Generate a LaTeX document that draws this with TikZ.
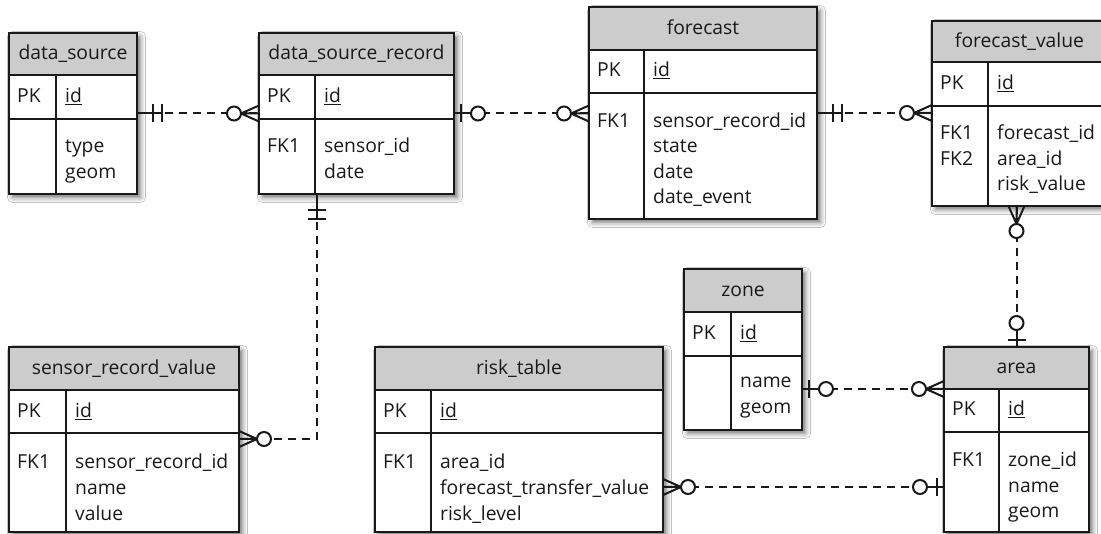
\documentclass[tikz,border=0pt]{standalone}
\usepackage{fontspec}
\setmainfont{Open Sans}
\usetikzlibrary{fit,calc,shadows.blur}
\definecolor{hdrgray}{RGB}{204,204,204}
\definecolor{ink}{RGB}{25,25,25}
\tikzset{
  tblbox/.style={draw=ink, line width=1.3pt, fill=white, inner sep=0pt, outer sep=0pt,
    blur shadow={shadow xshift=3.5pt, shadow yshift=-3.5pt, shadow blur radius=5pt, shadow opacity=55}},
  tblline/.style={draw=ink, line width=1.3pt},
  hdrfill/.style={fill=hdrgray},
  ttl/.style={anchor=base, inner sep=0pt, text=ink, font=\fontsize{19.3}{20}\selectfont},
  lbl/.style={anchor=base west, inner sep=0pt, text=ink, font=\fontsize{19.3}{20}\selectfont},
  conn/.style={draw=ink, line width=2pt, dash pattern=on 8pt off 6pt},
  mk/.style={draw=ink, line width=2pt},
  pics/onlyone/.style={code={
    \draw[mk] (0,0) -- (25,0);
    \draw[mk] (16,-9) -- (16,9) (25,-9) -- (25,9);}},
  pics/zeroone/.style={code={
    \draw[mk] (0,0) -- (17,0);
    \draw[mk] (7,-9) -- (7,9);
    \draw[mk, fill=white] (24,0) circle (7pt);}},
  pics/zeromany/.style={code={
    \draw[mk] (0,-8) -- (18,0) -- (0,8) (0,0) -- (18,0);
    \draw[mk, fill=white] (25,0) circle (7pt);}},
}
\newcommand\ertable[9]{%
  \node[tblbox, fit={(#2,#3) (#4,#7)}] (#1) {};
  \fill[hdrfill] (#2,#3) rectangle (#4,#5);
  \draw[tblline] (#2,#5) -- (#4,#5) (#2,#6) -- (#4,#6) (#8,#5) -- (#8,#7);
  \draw[tblline] (#1.north west) rectangle (#1.south east);
  \node[ttl] (#1-title) at ({(#2+#4)/2},{(#3+#5)/2+6}) {#9};
}
\begin{document}
\begin{tikzpicture}[x=1pt,y=-1pt]
\useasboundingbox (0,0) rectangle (1101,534);
\fill[white] (0,0) rectangle (1101,534);

% ---------- tables ----------
\ertable{ds}{9}{33}{137}{75}{119}{194}{56}{data\_source}
\node[lbl] (ds-pk) at (17,102.5) {PK};
\node[lbl] (ds-id) at (65,102.5) {\underline{id}};
\node[lbl] (ds-a1) at (65,153) {type};
\node[lbl] (ds-a2) at (65,178.5) {geom};

\ertable{dsr}{259}{33}{454}{75}{119}{194}{315}{data\_source\_record}
\node[lbl] (dsr-pk) at (267,102.5) {PK};
\node[lbl] (dsr-id) at (324,102.5) {\underline{id}};
\node[lbl] (dsr-fk) at (267,153) {FK1};
\node[lbl] (dsr-a1) at (324,153) {sensor\_id};
\node[lbl] (dsr-a2) at (324,178.5) {date};

\ertable{fc}{589}{7}{817}{50}{93}{219}{644}{forecast}
\node[lbl] (fc-pk) at (597,77) {PK};
\node[lbl] (fc-id) at (653,77) {\underline{id}};
\node[lbl] (fc-fk) at (597,127.5) {FK1};
\node[lbl] (fc-a1) at (653,127.5) {sensor\_record\_id};
\node[lbl] (fc-a2) at (653,153) {state};
\node[lbl] (fc-a3) at (653,178.5) {date};
\node[lbl] (fc-a4) at (653,204) {date\_event};

\ertable{fv}{932}{21}{1107}{62}{106}{206}{988}{forecast\_value}
\node[lbl] (fv-pk) at (940,89.5) {PK};
\node[lbl] (fv-id) at (997,89.5) {\underline{id}};
\node[lbl] (fv-fk1) at (940,140) {FK1};
\node[lbl] (fv-fk2) at (940,165.5) {FK2};
\node[lbl] (fv-a1) at (997,140) {forecast\_id};
\node[lbl] (fv-a2) at (997,165.5) {area\_id};
\node[lbl] (fv-a3) at (997,191) {risk\_value};

\ertable{zone}{684}{269}{802}{312}{356}{430}{731}{zone}
\node[lbl] (zone-pk) at (692,339.5) {PK};
\node[lbl] (zone-id) at (740,339.5) {\underline{id}};
\node[lbl] (zone-a1) at (740,388) {name};
\node[lbl] (zone-a2) at (740,414) {geom};

\ertable{area}{944}{347}{1089}{389}{432}{532}{999}{area}
\node[lbl] (area-pk) at (952,416) {PK};
\node[lbl] (area-id) at (1008,416) {\underline{id}};
\node[lbl] (area-fk) at (952,467) {FK1};
\node[lbl] (area-a1) at (1008,467) {zone\_id};
\node[lbl] (area-a2) at (1008,492.5) {name};
\node[lbl] (area-a3) at (1008,518) {geom};

\ertable{srv}{9}{347}{239}{390}{433}{532}{66}{sensor\_record\_value}
\node[lbl] (srv-pk) at (17,417.5) {PK};
\node[lbl] (srv-id) at (75,417.5) {\underline{id}};
\node[lbl] (srv-fk) at (17,469) {FK1};
\node[lbl] (srv-a1) at (75,469) {sensor\_record\_id};
\node[lbl] (srv-a2) at (75,494.5) {name};
\node[lbl] (srv-a3) at (75,520) {value};

\ertable{risk}{375}{347}{663}{390}{433}{532}{431}{risk\_table}
\node[lbl] (risk-pk) at (383,417.5) {PK};
\node[lbl] (risk-id) at (440,417.5) {\underline{id}};
\node[lbl] (risk-fk) at (383,469) {FK1};
\node[lbl] (risk-a1) at (440,469) {area\_id};
\node[lbl] (risk-a2) at (440,494.5) {forecast\_transfer\_value};
\node[lbl] (risk-a3) at (440,520) {risk\_level};

% ---------- connectors ----------
\coordinate (c5) at (317,439);
\coordinate (c6) at (0,389);
\coordinate (c7) at (0,487);
\coordinate (c4) at (1016.5,0);

\draw[conn] (ds.east) -- (dsr.west);
\draw[conn] (dsr.east) -- (dsr.east -| fc.west);
\draw[conn] (fc.east) -- (fc.east -| fv.west);
\draw[conn] (c4 |- fv.south) -- (area.north);
\draw[conn] (dsr.south -| c5) -- (c5) -- (c5 -| srv.east);
\draw[conn] (zone.east |- c6) -- (area.west |- c6);
\draw[conn] (risk.east |- c7) -- (area.west |- c7);

\pic at (ds.east) {onlyone};
\pic[rotate=180] at (dsr.west) {zeromany};
\pic at (dsr.east) {zeroone};
\pic[rotate=180] at (dsr.east -| fc.west) {zeromany};
\pic at (fc.east) {onlyone};
\pic[rotate=180] at (fc.east -| fv.west) {zeromany};
\pic[rotate=-90] at (c4 |- fv.south) {zeromany};
\pic[rotate=90] at (area.north) {zeroone};
\pic[rotate=-90] at (dsr.south -| c5) {onlyone};
\pic at (c5 -| srv.east) {zeromany};
\pic at (zone.east |- c6) {zeroone};
\pic[rotate=180] at (area.west |- c6) {zeromany};
\pic at (risk.east |- c7) {zeromany};
\pic[rotate=180] at (area.west |- c7) {zeroone};
\end{tikzpicture}
\end{document}
